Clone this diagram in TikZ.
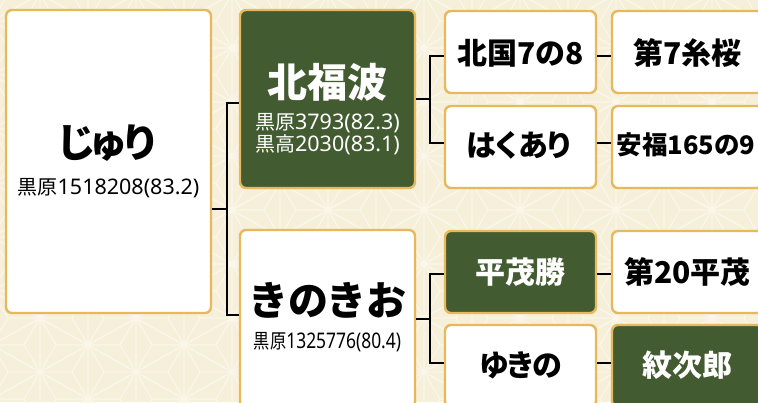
\documentclass[tikz,border=0pt]{standalone}
\usepackage{fontspec}
\usepackage{graphicx}
\setmainfont{Noto Sans CJK JP}
\newfontfamily\lat{Noto Sans}
\newcommand\latd[1]{{\lat\fontsize{21.5}{22}\selectfont #1}}
\definecolor{gold}{HTML}{E7B95C}
\definecolor{dgreen}{HTML}{435B31}
\definecolor{bgc}{HTML}{F6EFD9}
\definecolor{bgl}{HTML}{FAF6E9}
\begin{document}
\begin{tikzpicture}[x=1pt,y=-1pt,
  box/.style={rectangle,rounded corners=6pt,draw=gold,line width=2.4pt,fill=white,inner sep=0pt},
  dark/.style={box,fill=dgreen},
  big/.style={font=\fontsize{40}{40}\selectfont\bfseries,inner sep=0pt},
  mid/.style={font=\fontsize{30}{30}\selectfont\bfseries,inner sep=0pt},
  capt/.style={font=\fontsize{20}{22}\selectfont,inner sep=0pt},
  conn/.style={line width=2.2pt,black},
  w1/.style={minimum width=205pt,minimum height=303pt},
  w2/.style={minimum width=175pt,minimum height=178pt},
  w3/.style={minimum width=151pt,minimum height=82pt}]
\fill[bgc] (0,0) rectangle (758,402);
\useasboundingbox (0,0) rectangle (758,402);
\clip (0,0) rectangle (758,402);
% asanoha background pattern
\foreach \i in {0,...,17}{
  \pgfmathsetmacro\xx{-8+48*\i}
  \pgfmathsetmacro\cc{48+27*mod(\i+1,2)}
  \foreach \j in {-2,...,7}{
    \pgfmathsetmacro\yy{\cc+54*\j}
    \draw[bgl,line width=1.2pt,line join=round]
      (\xx,\yy) -- (\xx,\yy+54) -- (\xx+48,\yy+27) -- cycle
      (\xx,\yy) -- (\xx+16,\yy+27) (\xx,\yy+54) -- (\xx+16,\yy+27) (\xx+48,\yy+27) -- (\xx+16,\yy+27)
      (\xx,\yy) -- (\xx-48,\yy+27) -- (\xx,\yy+54)
      (\xx,\yy) -- (\xx-16,\yy+27) (\xx,\yy+54) -- (\xx-16,\yy+27) (\xx-48,\yy+27) -- (\xx-16,\yy+27);
  }
}
% generation 1
\node[box,w1] (juri) at (108.5,161.5) {};
\node[big] (juriN) at (108.5,143) {じ\kern-8ptゅ\kern-8ptり};
\node[capt] (juriC) at (108.5,188) {黒原\latd{1518208(83.2)}};
% generation 2
\node[dark,w2] (kita) at (327.5,99) {};
\node[big,white] (kitaN) at (327.5,82) {北福波};
\node[capt,white] (kitaC1) at (327.5,123) {黒原\latd{3793(82.3)}};
\node[capt,white] (kitaC2) at (327.5,145) {黒高\latd{2030(83.1)}};
\node[box,w2] (kino) at (327.5,319) {};
\node[big] (kinoN) at (327.5,300) {きのきお};
\node[capt] (kinoC) at (327.5,342) {\scalebox{0.81}[1]{黒原\latd{1325776(80.4)}}};
% generation 3
\node[box,w3] (k78) at (520.5,52) {};
\node[mid] (k78N) at (520.5,53) {北国7の8};
\node[box,w3] (haku) at (520.5,147) {};
\node[mid] (hakuN) at (520.5,145) {は\kern-4ptく\kern-4ptあ\kern-4ptり};
\node[dark,w3] (hira) at (520.5,272) {};
\node[mid,white] (hiraN) at (520.5,272) {平茂勝};
\node[box,w3] (yuki) at (520.5,366) {};
\node[mid] (yukiN) at (520.5,365) {ゆ\kern-3.5ptき\kern-3.5ptの};
% generation 4
\node[box,w3] (dai7) at (687.5,52) {};
\node[mid] (dai7N) at (687.5,53) {第7糸桜};
\node[box,w3] (yasu) at (687.5,147) {};
\node[mid,font=\fontsize{25.5}{26}\selectfont\bfseries] (yasuN) at (686,145) {安福165の9};
\node[box,w3] (dai20) at (687.5,272) {};
\node[mid] (dai20N) at (687.5,272) {第20平茂};
\node[dark,w3] (mon) at (687.5,366) {};
\node[mid,white] (monN) at (687.5,365) {紋次郎};
% connectors
\coordinate (b1) at (227,209);
\coordinate (b2) at (430,99);
\coordinate (b3) at (430,319);
\draw[conn] (juri.east |- b1) -- (b1);
\draw[conn] ([yshift=-4pt]kita.west) -| (b1) |- ([yshift=4pt]kino.west);
\draw[conn] (kita.east) -- (b2);
\draw[conn] ([yshift=-4pt]k78.west) -| (b2) |- ([yshift=4pt]haku.west);
\draw[conn] (kino.east) -- (b3);
\draw[conn] ([yshift=-2pt]hira.west) -| (b3) |- ([yshift=3pt]yuki.west);
\draw[conn] ([yshift=-4pt]k78.east) -- ([yshift=-4pt]dai7.west);
\draw[conn] ([yshift=4pt]haku.east) -- ([yshift=4pt]yasu.west);
\draw[conn] ([yshift=-2pt]hira.east) -- ([yshift=-2pt]dai20.west);
\draw[conn] ([yshift=3pt]yuki.east) -- ([yshift=3pt]mon.west);
\end{tikzpicture}
\end{document}
